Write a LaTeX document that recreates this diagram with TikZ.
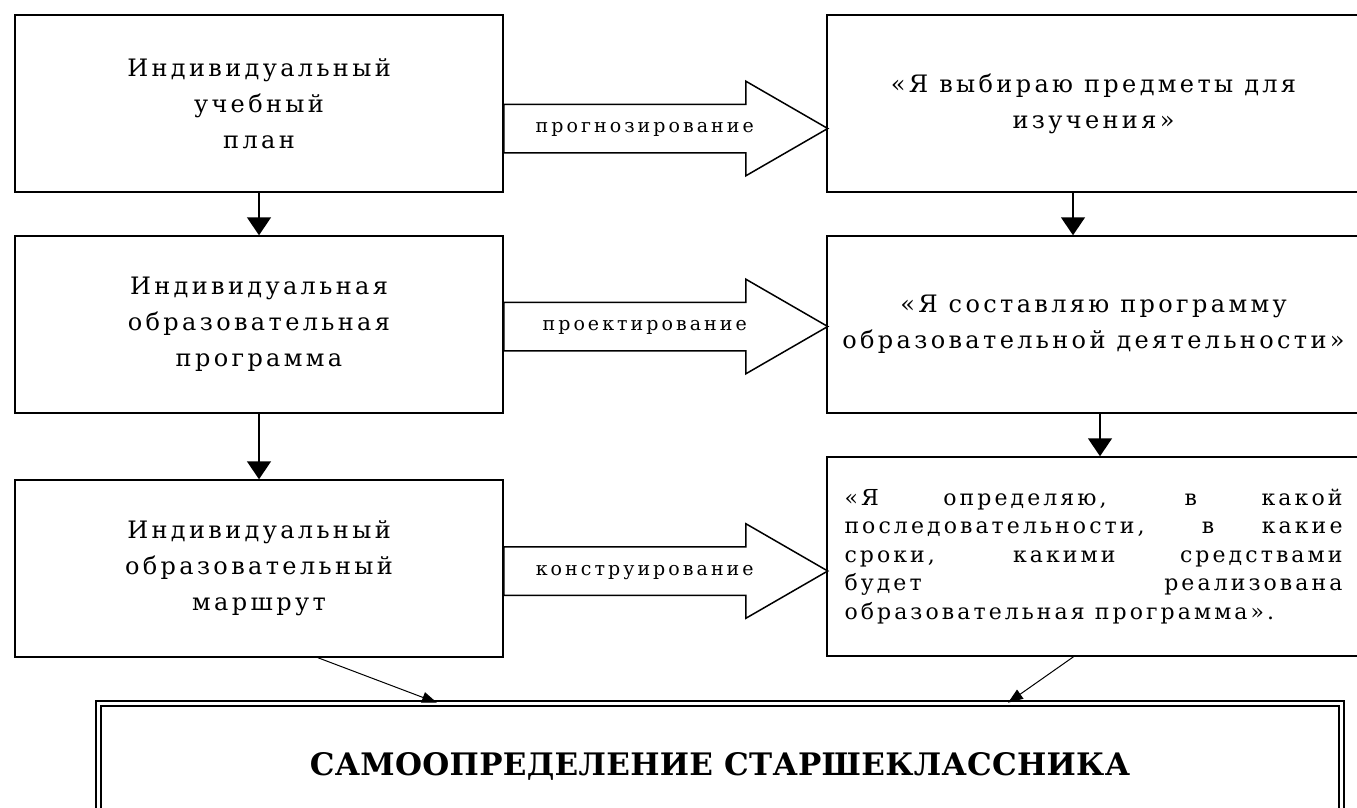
\documentclass[tikz,border=0pt]{standalone}
\usepackage{fontspec}
\setmainfont{DejaVu Serif}
\newfontfamily\spacedfont[LetterSpace=14]{DejaVu Serif}
\newfontfamily\labelfont[LetterSpace=16]{DejaVu Serif}
\newfontfamily\titlefont[LetterSpace=1]{DejaVu Serif}
\usetikzlibrary{arrows.meta,shapes.arrows}

\begin{document}
\begin{tikzpicture}[x=1pt,y=-1pt,
    box/.style={draw, line width=1.5pt, inner sep=0pt, minimum width=488pt,
      minimum height=177pt, align=center, font=\fontsize{24}{36}\spacedfont},
    rbox/.style={box, minimum width=533pt},
    barrow/.style={single arrow, draw, line width=1.5pt, anchor=tail,
      single arrow head extend=23pt, single arrow tip angle=60,
      minimum height=324pt, inner xsep=0pt, inner ysep=15.5pt,
      text height=12pt, text depth=4pt, font=\fontsize{19}{20}\labelfont},
    down/.style={-{Triangle[width=24pt,length=18pt]}, line width=1.5pt},
    slant/.style={-{Triangle[width=11pt,length=15pt]}, line width=1pt}]
    \useasboundingbox (0,0) rectangle (1357,808);
    \clip (0,0) rectangle (1357,808);

    % left column
    \node[box] (l1) at (259,103.5) {Индивидуальный\\учебный\\план};
    \node[box] (l2) at (259,324.5) {Индивидуальная\\образовательная\\программа};
    \node[box] (l3) at (259,568.5) {Индивидуальный\\образовательный\\маршрут};

    % right column
    \node[rbox] (r1) at (1093.5,103.5) {«Я выбираю предметы для\\изучения»};
    \node[rbox] (r2) at (1093.5,324.5) {«Я составляю программу\\образовательной деятельности»};
    \node[rbox, minimum height=199pt, text width=498pt, align=justify,
      font=\fontsize{22}{28.5}\spacedfont] (r3) at (1093.5,556.5)
      {«Я определяю, в какой\linebreak последовательности, в какие\linebreak
       сроки, какими средствами\linebreak будет реализована\linebreak
       образовательная программа».\par\vspace*{40pt}};

    % block arrows
    \node[barrow] (a1) at (503,128.5) {прогнозирование};
    \node[barrow] (a2) at (503,326.5) {проектирование};
    \node[barrow] (a3) at (503,571) {конструирование};

    \node[draw, double, double distance=3.5pt, line width=1.5pt,
      minimum width=1243pt, minimum height=126.5pt,
      font=\fontsize{31}{36}\titlefont\bfseries] (title) at (720,766.75)
      {САМООПРЕДЕЛЕНИЕ СТАРШЕКЛАССНИКА};

    \draw[down] (l1) -- (l2);
    \draw[down] (l2) -- (l3);
    \draw[down] ([xshift=-20.5pt]r1.south) -- ([xshift=-20.5pt]r2.north);
    \draw[down] ([xshift=6.5pt]r2.south) -- ([xshift=6.5pt]r3.north);
    \draw[slant] ([xshift=59pt]l3.south) -- ([xshift=-283pt]title.north);
    \draw[slant] ([xshift=-20pt]r3.south) -- ([xshift=288pt]title.north);
\end{tikzpicture}
\end{document}
